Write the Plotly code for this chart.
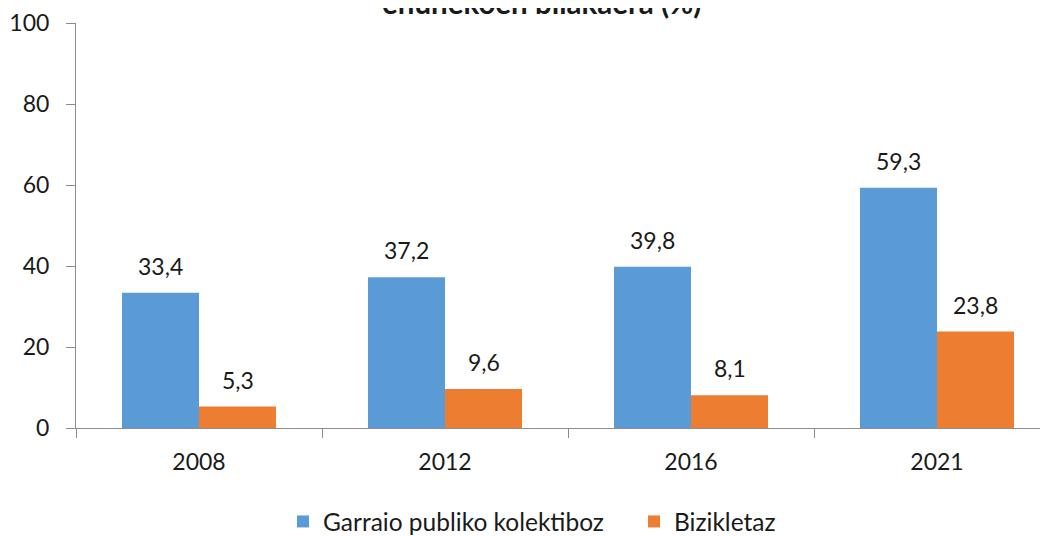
import plotly.graph_objects as go

years = ["2008", "2012", "2016", "2021"]
garraio = [33.4, 37.2, 39.8, 59.3]
bizikleta = [5.3, 9.6, 8.1, 23.8]
series_names = ["Garraio publiko kolektiboz", "Bizikletaz"]
colors = ["#5B9BD5", "#ED7D31"]
yticks = [0, 20, 40, 60, 80, 100]
title_text = "ehunekoen bilakaera (%)"

FONT = "Lato"
TXT = "#1a1a1a"

fig = go.Figure()
for name, vals, col in zip(series_names, [garraio, bizikleta], colors):
    fig.add_trace(go.Bar(x=years, y=vals, name=name, marker_color=col,
                         marker_line_width=0))

# value labels (category axis -> use category index)
for vals, shift in [(garraio, -38.5), (bizikleta, 38.5)]:
    for i, v in enumerate(vals):
        fig.add_annotation(x=i, y=v, xshift=shift, yshift=11, yanchor="bottom",
                           text=f"{v:.1f}".replace(".", ","), showarrow=False,
                           font=dict(family=FONT, size=23, color=TXT))

# title (top part is cut off by the page edge, as in the reference)
fig.add_annotation(xref="paper", yref="paper", x=(541 - 76) / 972, y=1 + 20.6 / 407,
                   xanchor="center", yanchor="middle", showarrow=False,
                   text="<b>" + title_text + "</b>",
                   font=dict(family=FONT, size=29.5, color=TXT))

fig.update_layout(
    width=1040, height=536, autosize=False,
    margin=dict(l=68, r=0, t=13, b=116),
    paper_bgcolor="white", plot_bgcolor="white",
    barmode="group", bargap=0.374, bargroupgap=0,
    font=dict(family=FONT, size=23, color=TXT),
    legend=dict(orientation="h", x=(297 - 76 - 14) / 972, xanchor="left",
                y=-0.231, yanchor="middle",
                font=dict(family=FONT, size=24.5, color=TXT),
                itemwidth=30, traceorder="normal",
                entrywidth=306, entrywidthmode="pixels"),
)
fig.update_xaxes(type="category", range=[-0.5, -0.5 + 972 / 246],
                 showline=True, linecolor="#8c8c8c", linewidth=1,
                 ticks="outside", tickson="boundaries", ticklen=9, tickcolor="#8c8c8c",
                 showgrid=False, ticklabelstandoff=13)
fig.update_yaxes(range=[0, 100], tickvals=yticks, showline=True, linecolor="#8c8c8c",
                 linewidth=1, ticks="outside", ticklen=9, tickcolor="#8c8c8c",
                 showgrid=False, zeroline=False, ticklabelstandoff=12,
                 ticklabeloverflow="allow")

fig.write_html("out.html")
